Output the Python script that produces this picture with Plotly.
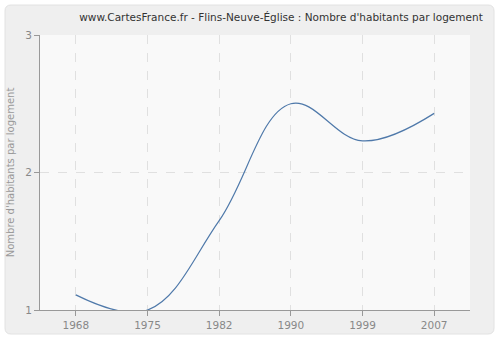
import plotly.graph_objects as go

years = ["1968", "1975", "1982", "1990", "1999", "2007"]
values = [1.11, 1.0, 1.65, 2.5, 2.23, 2.43]
title_text = "www.CartesFrance.fr - Flins-Neuve-Église : Nombre d'habitants par logement"
y_title = "Nombre d'habitants par logement"

W, H = 500, 340
L, R, T, B = 40, 30, 35, 30
pw, ph = W - L - R, H - T - B

def px(x):
    return (x - L) / pw

def py(y):
    return (H - B - y) / ph

fig = go.Figure()
fig.add_trace(go.Scatter(
    x=list(range(len(years))), y=values, mode="lines",
    line=dict(color="#4f79aa", width=1.2, shape="spline", smoothing=1.1),
    hoverinfo="skip", showlegend=False,
))

# rounded panel background
x0, x1, y0, y1 = px(5), px(494), py(334), py(5)
rx, ry = 6 / pw, 6 / ph
path = (f"M {x0+rx},{y0} L {x1-rx},{y0} Q {x1},{y0} {x1},{y0+ry} "
        f"L {x1},{y1-ry} Q {x1},{y1} {x1-rx},{y1} L {x0+rx},{y1} "
        f"Q {x0},{y1} {x0},{y1-ry} L {x0},{y0+ry} Q {x0},{y0} {x0+rx},{y0} Z")
fig.add_shape(type="path", path=path, xref="paper", yref="paper",
              fillcolor="#efefef", line=dict(color="#e2e2e2", width=1), layer="below")
fig.add_shape(type="rect", x0=0, x1=1, y0=0, y1=1, xref="paper", yref="paper",
              fillcolor="#f9f9f9", line=dict(width=0), layer="below")

fig.update_layout(
    width=W, height=H,
    margin=dict(l=L, r=R, t=T, b=B),
    paper_bgcolor="white",
    plot_bgcolor="#f9f9f9",
    font=dict(family="DejaVu Sans", size=10, color="#888"),
    title=dict(text=title_text, x=281 / W, xref="container", xanchor="center",
               y=1 - 17 / H, yanchor="middle",
               font=dict(family="DejaVu Sans", size=10.5, color="#333")),
    xaxis=dict(
        range=[-0.5, 5.5], tickmode="array", tickvals=list(range(len(years))), ticktext=years,
        showline=True, linecolor="#999", linewidth=1, ticks="outside", ticklen=5, tickcolor="#999",
        showgrid=True, gridcolor="#e0e0e0", griddash="dash", gridwidth=1, zeroline=False,
        tickfont=dict(size=10.5, color="#888"), automargin=False,
    ),
    yaxis=dict(
        range=[1, 3], tickmode="array", tickvals=[1, 2, 3], ticktext=["1", "2", "3"],
        showline=True, linecolor="#999", linewidth=1, ticks="outside", ticklen=5, tickcolor="#999",
        showgrid=True, gridcolor="#e0e0e0", griddash="dash", gridwidth=1, zeroline=False,
        tickfont=dict(size=10.5, color="#888"), automargin=False,
        title=dict(text=y_title, font=dict(size=10, color="#999"), standoff=8),
    ),
)

fig.write_html("out.html")
